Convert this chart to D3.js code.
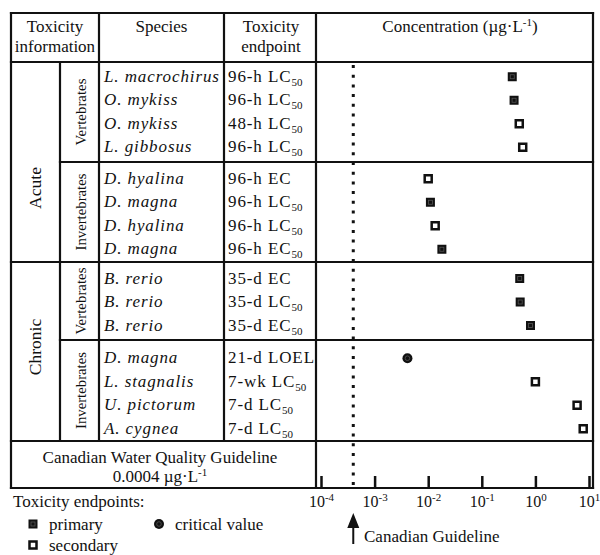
<!DOCTYPE html>
<html lang="en">
<head>
<meta charset="UTF-8">
<title>Toxicity endpoints vs Canadian guideline</title>
<script src="https://d3js.org/d3.v7.min.js"></script>
<style>
    body {
        margin: 0;
        background: #fff;
        font-family: "Liberation Serif", "Times New Roman", serif;
    }
    text {
        fill: #111;
    }
    .grid {
        stroke: #111;
        stroke-width: 2.2;
        stroke-linecap: square;
    }
</style>
</head>
<body>
<div id="chart"></div>
<script>
    // ---- data ----
    const phases = ["Acute", "Chronic"];
    const taxa = ["Vertebrates", "Invertebrates", "Vertebrates", "Invertebrates"];
    const species = ["L. macrochirus", "O. mykiss", "O. mykiss", "L. gibbosus",
        "D. hyalina", "D. magna", "D. hyalina", "D. magna",
        "B. rerio", "B. rerio", "B. rerio",
        "D. magna", "L. stagnalis", "U. pictorum", "A. cygnea"];
    const endpointText = ["96-h LC", "96-h LC", "48-h LC", "96-h LC",
        "96-h EC", "96-h LC", "96-h LC", "96-h EC",
        "35-d EC", "35-d LC", "35-d EC",
        "21-d LOEL", "7-wk LC", "7-d LC", "7-d LC"];
    const endpointSub = ["50", "50", "50", "50",
        "", "50", "50", "50",
        "", "50", "50",
        "", "50", "50", "50"];
    const concentration = [0.37, 0.40, 0.50, 0.58,
        0.010, 0.011, 0.0135, 0.018,
        0.51, 0.52, 0.81,
        0.0041, 1.0, 6.0, 7.8];
    const endpointType = ["primary", "primary", "secondary", "secondary",
        "secondary", "primary", "secondary", "primary",
        "primary", "primary", "primary",
        "critical", "secondary", "secondary", "secondary"];
    const rowBlock = [0, 0, 0, 0, 1, 1, 1, 1, 2, 2, 2, 3, 3, 3, 3];
    const guideline = 0.0004;
    const tickExponents = [-4, -3, -2, -1, 0, 1];

    // ---- layout ----
    const W = 600, H = 555;
    const tLeft = 11, tRight = 593, tTop = 13, tBottom = 488;
    const headBottom = 62;
    const blockEdges = [62, 162, 262, 340, 441];
    const blockShift = [-1, 1, 0, 2];
    const colPhase = 60, colSpecies = 99, colEndpoint = 224, colConc = 316;
    const rowStep = 23.5;

    const svg = d3.select("#chart").append("svg")
        .attr("width", W)
        .attr("height", H);

    const x = d3.scaleLog()
        .domain([1e-4, 1e1])
        .range([321, 589]);

    // y position of each row, centred inside its block
    const rowY = species.map((s, i) => {
        const b = rowBlock[i];
        const idx = d3.range(species.length).filter(j => rowBlock[j] === b);
        const mid = (blockEdges[b] + blockEdges[b + 1]) / 2 + blockShift[b];
        const half = (idx.length - 1) * rowStep / 2;
        const y = d3.scalePoint().domain(idx).range([mid - half, mid + half]);
        return y(i);
    });

    // ---- table grid ----
    const hLines = [
        [tLeft, tRight, tTop], [tLeft, tRight, headBottom],
        [colPhase, tRight, blockEdges[1]], [tLeft, tRight, blockEdges[2]],
        [colPhase, tRight, blockEdges[3]], [tLeft, tRight, blockEdges[4]],
        [tLeft, tRight, tBottom]
    ];
    const vLines = [
        [tLeft, tTop, tBottom], [colPhase, headBottom, blockEdges[4]],
        [colSpecies, tTop, blockEdges[4]], [colEndpoint, tTop, blockEdges[4]],
        [colConc, tTop, tBottom], [tRight, tTop, tBottom]
    ];
    svg.selectAll(".hline").data(hLines).enter().append("line")
        .attr("class", "grid")
        .attr("x1", d => d[0]).attr("x2", d => d[1])
        .attr("y1", d => d[2]).attr("y2", d => d[2]);
    svg.selectAll(".vline").data(vLines).enter().append("line")
        .attr("class", "grid")
        .attr("x1", d => d[0]).attr("x2", d => d[0])
        .attr("y1", d => d[1]).attr("y2", d => d[2]);

    // ---- header ----
    const head = svg.append("g").attr("font-size", 17).attr("text-anchor", "middle");
    head.append("text").attr("x", 55).attr("y", 32).text("Toxicity");
    head.append("text").attr("x", 55).attr("y", 52).text("information");
    head.append("text").attr("x", 161.5).attr("y", 32).text("Species");
    head.append("text").attr("x", 271).attr("y", 32).text("Toxicity");
    head.append("text").attr("x", 271).attr("y", 52).text("endpoint");
    const conc = head.append("text").attr("x", 460).attr("y", 32);
    conc.append("tspan").text("Concentration (\u00b5g\u00b7L");
    conc.append("tspan").attr("font-size", 11).attr("dy", -6).text("-1");
    conc.append("tspan").attr("dy", 6).text(")");

    // ---- phase and taxon labels ----
    phases.forEach((p, k) => {
        const cy = k === 0 ? 188 : 347;
        svg.append("text")
            .attr("transform", `translate(41,${cy}) rotate(-90)`)
            .attr("text-anchor", "middle")
            .attr("font-size", 17.5)
            .text(p);
    });
    taxa.forEach((t, b) => {
        const cy = (blockEdges[b] + blockEdges[b + 1]) / 2;
        svg.append("text")
            .attr("transform", `translate(86,${cy}) rotate(-90)`)
            .attr("text-anchor", "middle")
            .attr("font-size", 15)
            .attr("textLength", t === "Vertebrates" ? 67 : 77)
            .attr("lengthAdjust", "spacingAndGlyphs")
            .text(t);
    });

    // ---- species and endpoints ----
    svg.selectAll(".species").data(species).enter().append("text")
        .attr("class", "species")
        .attr("x", 104)
        .attr("y", (d, i) => rowY[i] + 6)
        .attr("font-size", 17)
        .attr("font-style", "italic")
        .attr("letter-spacing", 0.9)
        .text(d => d);

    const ep = svg.selectAll(".endpoint").data(endpointText).enter().append("text")
        .attr("class", "endpoint")
        .attr("x", 228)
        .attr("y", (d, i) => rowY[i] + 6)
        .attr("font-size", 17)
        .attr("letter-spacing", 0.9);
    ep.append("tspan").text(d => d);
    ep.append("tspan")
        .attr("font-size", 11)
        .attr("dy", 4)
        .attr("letter-spacing", 0)
        .text((d, i) => endpointSub[i]);

    // ---- guideline row ----
    svg.append("text").attr("x", 160).attr("y", 463)
        .attr("font-size", 17).attr("text-anchor", "middle")
        .text("Canadian Water Quality Guideline");
    const gl = svg.append("text").attr("x", 160).attr("y", 482)
        .attr("font-size", 17).attr("text-anchor", "middle");
    gl.append("tspan").text("0.0004 \u00b5g\u00b7L");
    gl.append("tspan").attr("font-size", 11).attr("dy", -6).text("-1");

    // ---- guideline dotted line ----
    svg.append("line")
        .attr("x1", x(guideline)).attr("x2", x(guideline))
        .attr("y1", 65).attr("y2", tBottom - 1)
        .attr("stroke", "#111")
        .attr("stroke-width", 3)
        .attr("stroke-dasharray", "3 6.7");

    // ---- axis ----
    const tickValues = tickExponents.map(e => Math.pow(10, e));
    const axisTicks = svg.append("g")
        .attr("transform", `translate(0,${tBottom})`)
        .call(d3.axisTop(x).tickValues(tickValues).tickSize(12).tickFormat(""));
    axisTicks.select(".domain").remove();
    axisTicks.selectAll(".tick line").attr("stroke", "#111").attr("stroke-width", 2.5);

    const axisLabels = svg.append("g")
        .attr("transform", `translate(0,${tBottom})`)
        .call(d3.axisBottom(x).tickValues(tickValues).tickSize(0).tickPadding(0).tickFormat(""));
    axisLabels.select(".domain").remove();
    axisLabels.selectAll(".tick text").each(function(d, i) {
        const t = d3.select(this)
            .attr("y", 19)
            .attr("dy", null)
            .attr("font-family", "Liberation Serif, Times New Roman, serif")
            .attr("font-size", 16)
            .attr("fill", "#111");
        t.append("tspan").text("10");
        t.append("tspan").attr("font-size", 11).attr("dy", -6).text(tickExponents[i]);
    });

    // ---- arrow ----
    const ax = x(guideline);
    svg.append("line")
        .attr("x1", ax).attr("x2", ax).attr("y1", 524).attr("y2", 544)
        .attr("stroke", "#111").attr("stroke-width", 2);
    svg.append("path")
        .attr("d", `M${ax},513 L${ax - 6},528 L${ax + 6},528 Z`)
        .attr("fill", "#111");
    svg.append("text").attr("x", 364).attr("y", 542)
        .attr("font-size", 17)
        .text("Canadian Guideline");

    // ---- markers ----
    function drawMarker(g, type) {
        if (type === "primary") {
            g.append("rect").attr("x", -4.5).attr("y", -4.5).attr("width", 9).attr("height", 9)
                .attr("fill", "#111");
            g.append("rect").attr("x", -2).attr("y", -2).attr("width", 4).attr("height", 4)
                .attr("fill", "none").attr("stroke", "#555").attr("stroke-width", 0.8);
        } else if (type === "secondary") {
            g.append("rect").attr("x", -3.5).attr("y", -3.5).attr("width", 7).attr("height", 7)
                .attr("fill", "#fff").attr("stroke", "#111").attr("stroke-width", 2.5);
        } else {
            g.append("circle").attr("r", 5).attr("fill", "#111");
            g.append("circle").attr("r", 2.3).attr("fill", "none")
                .attr("stroke", "#555").attr("stroke-width", 0.8);
        }
    }

    svg.selectAll(".mark").data(concentration).enter().append("g")
        .attr("class", "mark")
        .attr("transform", (d, i) => `translate(${x(d)},${rowY[i] + 1})`)
        .each(function(d, i) { drawMarker(d3.select(this), endpointType[i]); });

    // ---- legend ----
    svg.append("text").attr("x", 13).attr("y", 507)
        .attr("font-size", 17).text("Toxicity endpoints:");
    const legendItems = [
        { type: "primary", label: "primary", x: 33, y: 524 },
        { type: "critical", label: "critical value", x: 159, y: 524 },
        { type: "secondary", label: "secondary", x: 33, y: 545 }
    ];
    legendItems.forEach(item => {
        const g = svg.append("g").attr("transform", `translate(${item.x},${item.y})`);
        drawMarker(g, item.type);
        svg.append("text")
            .attr("x", item.x + 16)
            .attr("y", item.y + 6)
            .attr("font-size", 17)
            .text(item.label);
    });
</script>
</body>
</html>
